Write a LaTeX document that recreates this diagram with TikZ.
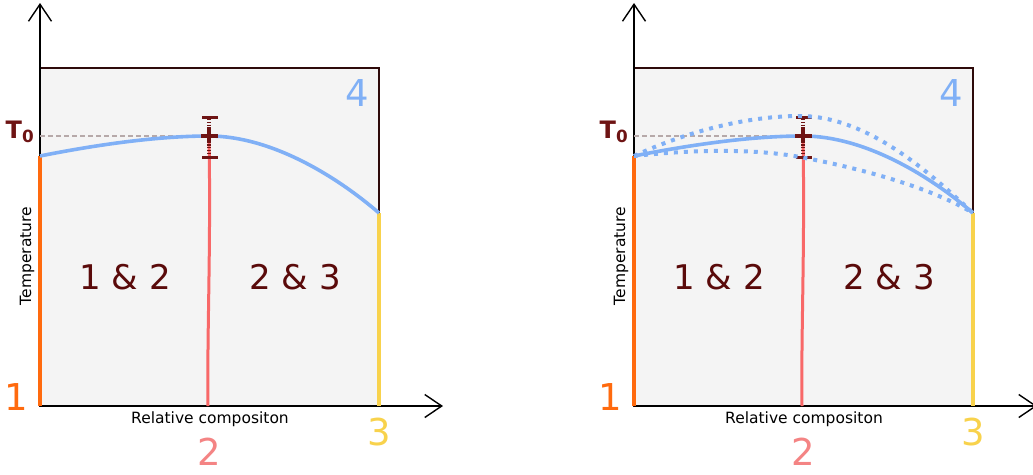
\documentclass[tikz,border=0pt]{standalone}
\usepackage{fontspec}
\setmainfont{DejaVu Sans}
\usetikzlibrary{arrows.meta}
\definecolor{boxfill}{HTML}{F4F4F4}
\definecolor{boxline}{HTML}{2E0A0A}
\definecolor{liqblue}{HTML}{80B0F6}
\definecolor{phaseone}{HTML}{FF6A0E}
\definecolor{phasetwo}{HTML}{F86868}
\definecolor{labeltwo}{HTML}{F48484}
\definecolor{phasethree}{HTML}{F8D24C}
\definecolor{darkred}{HTML}{6E1414}
\definecolor{regiontext}{HTML}{5A0A0A}

\begin{document}
\begin{tikzpicture}[x=1pt,y=-1pt,axis/.style={line width=1.6pt,-{Straight Barb[length=17pt,width=23pt,line width=1.4pt]}},frame/.style={draw=boxline,line width=2pt,fill=boxfill},liquidus/.style={liqblue,line width=3.6pt},spread/.style={liqblue,line width=4pt,dash pattern=on 4pt off 6pt},phase/.style={line width=3.2pt},num/.style={font=\fontsize{37}{37}\selectfont,inner sep=0pt},region/.style={font=\fontsize{34}{34}\selectfont,text=regiontext,inner sep=0pt},small/.style={font=\fontsize{15.5}{16}\selectfont,inner sep=0pt},errbar/.style={darkred}]
\useasboundingbox (0,0) rectangle (1033,474);
\foreach \dx in {0,594} {
\begin{scope}[xshift=\dx]
\coordinate (O) at (40,406);
\coordinate (ytop) at (40,3);
\coordinate (xend) at (443,406);
\coordinate (L) at (40,156);
\coordinate (M) at (209,136);
\coordinate (R) at (379,213);
\coordinate (Mb) at (208,406);
\coordinate (Rb) at (379,406);
\coordinate (Tl) at (40,136);
\filldraw[frame] (40,68) rectangle (379,406);
\draw[axis] (O) -- (ytop);
\draw[axis] (O) -- (xend);
\draw[phase,phaseone] (O) -- (L);
\draw[phase,phasethree] (Rb) -- (R);
\draw[phase,phasetwo,line width=3pt] (M) .. controls (211,250) and (207,330) .. (Mb);
\draw[boxline!35,line width=1.2pt,dash pattern=on 5pt off 3pt] (Tl) -- (M);
\draw[liquidus] (L) .. controls (100,144) and (160,136) .. (M) .. controls (270,136) and (335,175) .. (R);
% error bar on T0
\draw[errbar,line width=3.4pt,dash pattern=on 1.4pt off 1.4pt] (209,119) -- (209,155);
\draw[errbar,line width=3pt] (202,117) -- (218,117);
\draw[errbar,line width=3pt] (202,157) -- (218,157);
\draw[errbar,line width=4.5pt] (201,136) -- (218,136);
\draw[errbar,line width=4.5pt] (209,129) -- (209,143);
\node[font=\bfseries\fontsize{24}{24}\selectfont,text=darkred,inner sep=0pt] (tzero) at (20,132) {T\textsubscript{0}};
\node[small,rotate=90] (ylab) at (27,256) {Temperature};
\node[small] (xlab) at (210,419) {Relative compositon};
\node[num,text=phaseone] (one) at (16,397) {1};
\node[num,text=labeltwo] (two) at (209,452) {2};
\node[num,text=phasethree] (three) at (379,432) {3};
\node[num,text=liqblue] (four) at (357,93) {4};
\node[region] (onetwo) at (125,277) {1 \& 2};
\node[region] (twothree) at (295,277) {2 \& 3};
\end{scope}
}
% spread of the liquidus
\draw[spread] (634,156) .. controls (690,130) and (750,116) .. (800,116) .. controls (870,116) and (935,178) .. (973,213);
\draw[spread] (634,156) .. controls (690,150) and (750,148) .. (800,157) .. controls (870,170) and (935,190) .. (973,213);
\end{tikzpicture}
\end{document}
